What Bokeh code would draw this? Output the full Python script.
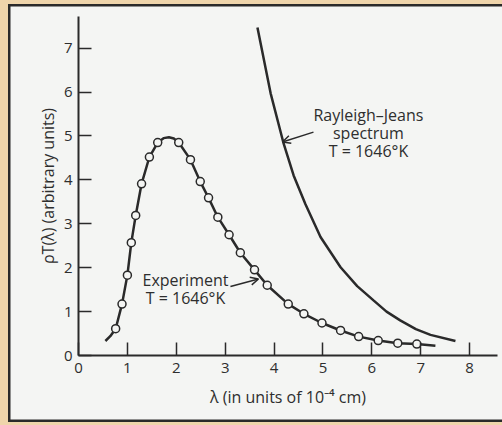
from bokeh.plotting import figure
from bokeh.models import Range1d, Label, Arrow, OpenHead, FixedTicker
from bokeh.embed import file_html
from bokeh.resources import INLINE

# ---- data ----
exp_x = [0.76, 0.89, 1.00, 1.08, 1.17, 1.29, 1.45, 1.62, 2.05, 2.29, 2.49, 2.66, 2.85,
         3.08, 3.31, 3.60, 3.86, 4.29, 4.61, 4.98, 5.36, 5.73, 6.13, 6.53, 6.92]
exp_y = [0.61, 1.17, 1.83, 2.57, 3.19, 3.91, 4.52, 4.85, 4.85, 4.46, 3.96, 3.59, 3.15,
         2.75, 2.34, 1.95, 1.60, 1.17, 0.95, 0.74, 0.57, 0.43, 0.34, 0.28, 0.26]

curve_x = [0.55, 0.65, 0.76, 0.89, 1.00, 1.08, 1.17, 1.29, 1.45, 1.62, 1.74, 1.85, 1.95,
           2.05, 2.29, 2.49, 2.66, 2.85, 3.08, 3.31, 3.60, 3.86, 4.29, 4.61, 4.98, 5.36,
           5.73, 6.13, 6.53, 6.92, 7.30]
curve_y = [0.33, 0.44, 0.61, 1.17, 1.83, 2.57, 3.19, 3.91, 4.52, 4.85, 4.95, 4.97, 4.94,
           4.85, 4.46, 3.96, 3.59, 3.15, 2.75, 2.34, 1.95, 1.60, 1.17, 0.95, 0.74, 0.57,
           0.43, 0.34, 0.28, 0.26, 0.22]

rj_x = [3.66, 3.93, 4.19, 4.40, 4.64, 4.95, 5.36, 5.70, 6.04, 6.30, 6.58, 6.90, 7.20, 7.71]
rj_y = [7.47, 5.97, 4.85, 4.10, 3.45, 2.70, 2.01, 1.58, 1.25, 1.00, 0.80, 0.60, 0.47, 0.33]

x_ticks = [0, 1, 2, 3, 4, 5, 6, 7, 8]
y_ticks = [0, 1, 2, 3, 4, 5, 6, 7]

INK = "#2a2a2a"
PAPER = "#f4f5f3"
BEIGE = "#efd5ab"
FONT = "Open Sans"

p = figure(width=502, height=425, x_range=Range1d(0, 8.57), y_range=Range1d(0, 7.72),
           output_backend="svg", toolbar_location=None,
           min_border_left=78, min_border_right=5, min_border_top=16, min_border_bottom=70)
p.border_fill_alpha = 0
p.background_fill_alpha = 0
p.outline_line_color = None
p.grid.visible = False
# paper sheet with a dark frame line and a beige margin
p.styles = {
    "background-color": PAPER,
    "box-shadow": (f"inset 8px 0 0 {BEIGE}, inset 0 4px 0 {BEIGE}, inset 0 -3px 0 {BEIGE}, "
                   f"inset 10.5px 0 0 {INK}, inset 0 6.5px 0 {INK}, inset 0 -5.5px 0 {INK}"),
}

for ax in (p.xaxis[0], p.yaxis[0]):
    ax.axis_line_color = INK
    ax.axis_line_width = 2
    ax.major_tick_line_color = INK
    ax.major_tick_line_width = 1.5
    ax.major_tick_in = 13
    ax.major_tick_out = 0
    ax.minor_tick_line_color = None
    ax.major_label_text_font = FONT
    ax.major_label_text_font_size = "15px"
    ax.major_label_text_color = "#2e2e2e"
    ax.axis_label_text_font = FONT
    ax.axis_label_text_font_size = "16px"
    ax.axis_label_text_font_style = "normal"
    ax.axis_label_text_color = "#2e2e2e"

p.xaxis.ticker = FixedTicker(ticks=x_ticks)
p.yaxis.ticker = FixedTicker(ticks=y_ticks)
p.xaxis.major_label_standoff = 7
p.yaxis.major_label_standoff = 6
p.xaxis.axis_label = "λ (in units of 10⁻⁴ cm)"
p.yaxis.axis_label = "ρT(λ) (arbitrary units)"
p.xaxis.axis_label_standoff = 10
p.yaxis.axis_label_standoff = 2

# curves
p.line(curve_x, curve_y, line_color=INK, line_width=2.5)
p.scatter(exp_x, exp_y, marker="circle", size=8, fill_color=PAPER, line_color=INK,
          line_width=1.5)
p.line(rj_x, rj_y, line_color=INK, line_width=2.5)


def px_x(px):
    return (px - 78) / 48.9


def px_y(py):
    return (355 - py) / 43.9


def lab(text, x, y, size="16px"):
    p.add_layout(Label(x=x, y=y, text=text, text_font=FONT, text_font_size=size,
                       text_align="center", text_baseline="middle", text_color="#2e2e2e"))


# annotations
lab("Rayleigh–Jeans", px_x(368), px_y(115))
lab("spectrum", px_x(368), px_y(133))
lab("T = 1646°K", px_x(368), px_y(151))
lab("Experiment", px_x(185), px_y(280))
lab("T = 1646°K", px_x(185), px_y(298))

p.add_layout(Arrow(end=OpenHead(size=8, line_color=INK, line_width=1.5),
                   x_start=px_x(313), y_start=px_y(131.7), x_end=px_x(282), y_end=px_y(141.5),
                   line_color=INK, line_width=1.5))
p.add_layout(Arrow(end=OpenHead(size=8, line_color=INK, line_width=1.5),
                   x_start=px_x(230), y_start=px_y(286), x_end=px_x(258), y_end=px_y(278.5),
                   line_color=INK, line_width=1.5))

open("out.html", "w").write(file_html(p, INLINE))
